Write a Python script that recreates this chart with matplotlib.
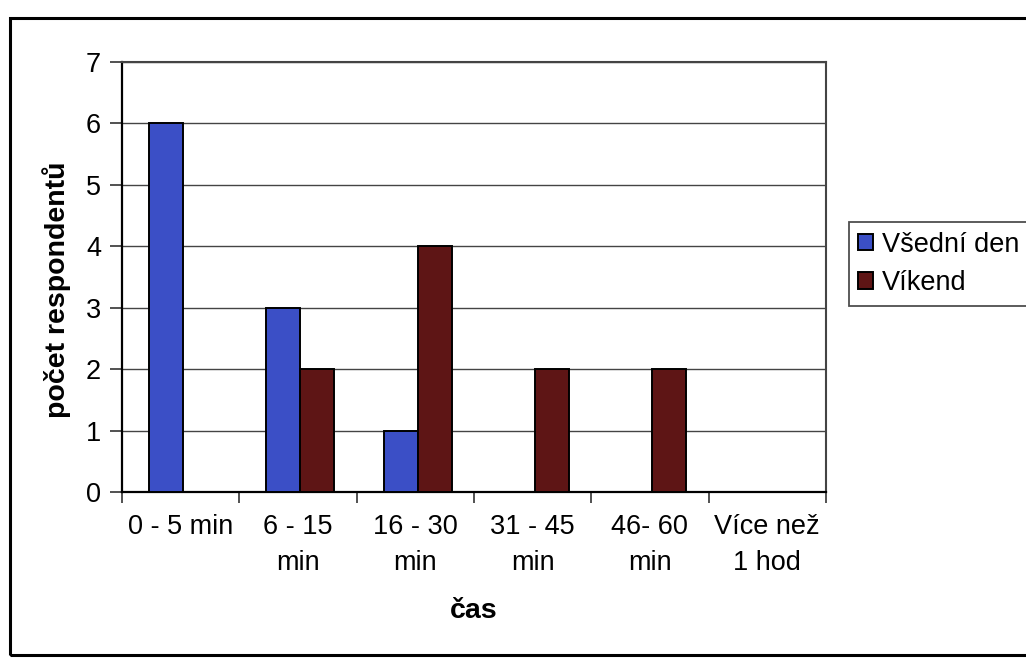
import matplotlib
matplotlib.use("Agg")
import matplotlib.pyplot as plt
import numpy as np
from matplotlib.patches import Rectangle

plt.rcParams['font.family'] = ['Liberation Sans', 'DejaVu Sans']

categories = ['0 - 5 min', '6 - 15\nmin', '16 - 30\nmin', '31 - 45\nmin', '46- 60\nmin', 'Více než\n1 hod']
vsedni_den = [6, 3, 1, 0, 0, 0]
vikend = [0, 2, 4, 2, 2, 0]
series_names = ['Všední den', 'Víkend']

BLUE = '#3b4fc6'
MAROON = '#5e1515'

fig = plt.figure(figsize=(10.26, 6.58), dpi=100)
ax = fig.add_axes([0.1189, 0.2523, 0.686, 0.6535])

x = np.arange(len(categories))
w = 0.29
ax.bar(x - w / 2 + 0.02, vsedni_den, width=w, color=BLUE, edgecolor='black', linewidth=1.4,
       label=series_names[0], zorder=3)
ax.bar(x + w / 2 + 0.02, vikend, width=w, color=MAROON, edgecolor='black', linewidth=1.4,
       label=series_names[1], zorder=3)

ax.set_xlim(-0.5, len(categories) - 0.5)
ax.set_ylim(0, 7)
ax.set_yticks(range(0, 8))
ax.yaxis.grid(True, color='#444444', linewidth=1.0, zorder=0)

# category labels centred, tick marks on the category boundaries
ax.set_xticks(x)
ax.set_xticklabels(categories, fontsize=19.5, linespacing=1.5, va='top')
ax.set_xticks(np.arange(-0.5, len(categories) + 0.5, 1), minor=True)
ax.tick_params(axis='x', which='major', length=0, pad=16)
ax.tick_params(axis='x', which='minor', length=8, width=1.2, direction='out', color='#333333')
ax.tick_params(axis='y', length=9, width=1.2, direction='out', labelsize=19.5, pad=6, color='#333333')

for side in ['top', 'right']:
    ax.spines[side].set_color('#444444')
    ax.spines[side].set_linewidth(1.5)
for side in ['left', 'bottom']:
    ax.spines[side].set_color('black')
    ax.spines[side].set_linewidth(1.6)

ax.set_ylabel('počet respondentů', fontsize=20.5, fontweight='bold')
ax.yaxis.set_label_coords(-0.072, 0.47)
ax.set_xlabel('čas', fontsize=20.5, fontweight='bold', labelpad=16)

leg = fig.legend(loc='center left', bbox_to_anchor=(849 / 1026, 1 - 264 / 658),
                 fontsize=19.5, frameon=True, fancybox=False, edgecolor='#222222',
                 handlelength=0.55, handleheight=0.55, handletextpad=0.3,
                 borderpad=0.35, labelspacing=0.45, borderaxespad=0)
leg.get_frame().set_linewidth(1.3)

# outer chart frame, right side runs past the edge
fig.patches.append(Rectangle((10 / 1026, 1 - 655 / 658), 1030 / 1026, 637 / 658,
                             transform=fig.transFigure, fill=False,
                             edgecolor='black', linewidth=2.2, clip_on=False))

fig.savefig('out.png', dpi=100)
